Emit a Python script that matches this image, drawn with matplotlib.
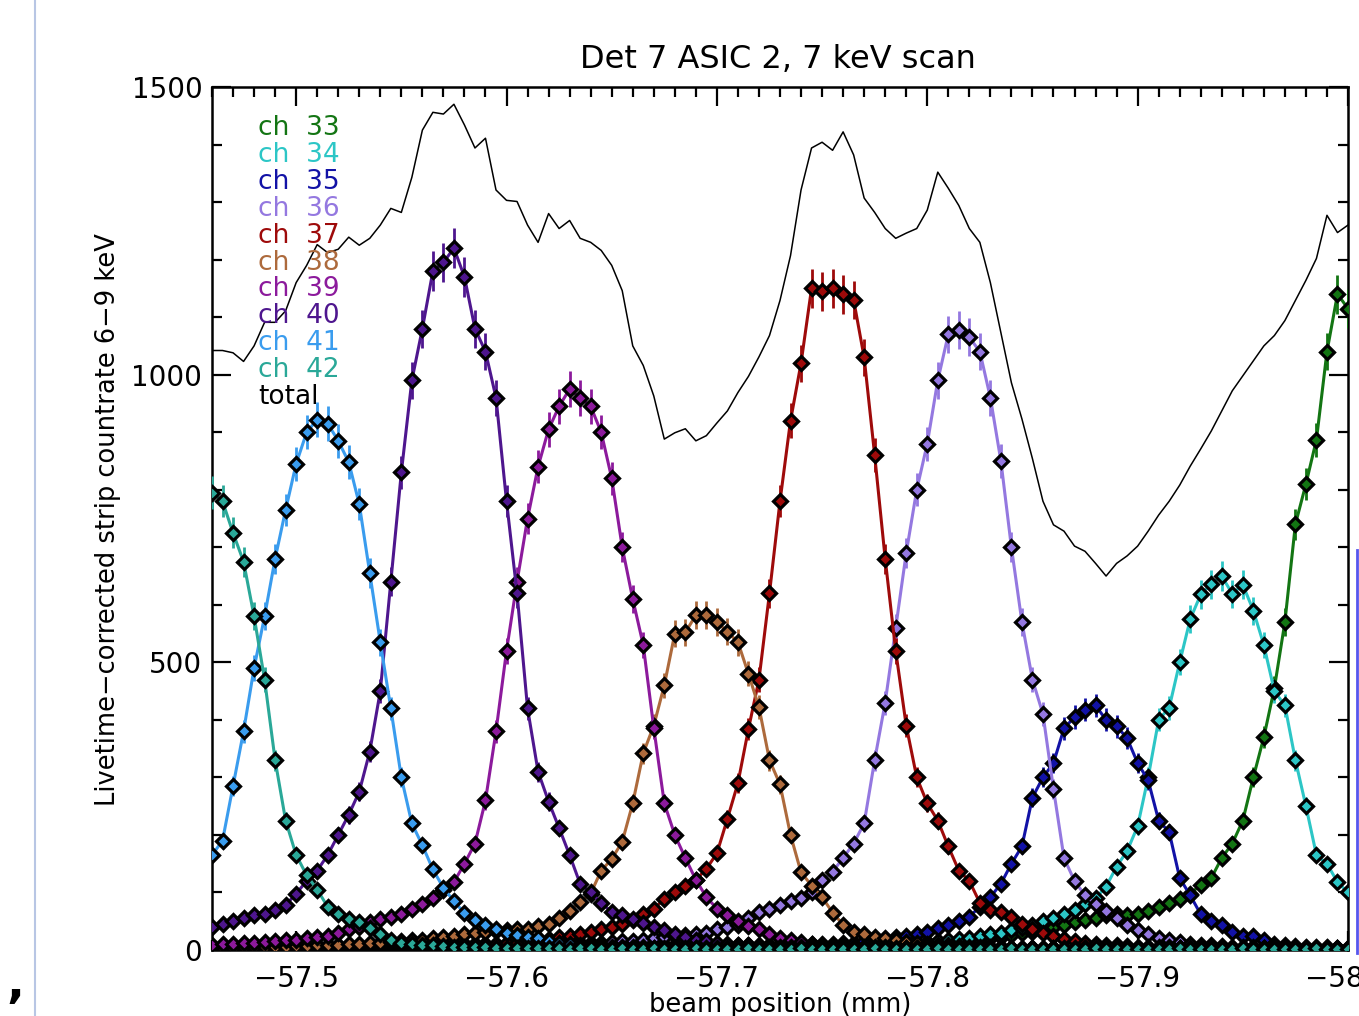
import numpy as np
import matplotlib
matplotlib.use('Agg')
import matplotlib.pyplot as plt
from matplotlib.lines import Line2D
from matplotlib.ticker import MultipleLocator

plt.rcParams['font.family'] = ['DejaVu Sans']

# beam positions (mm), scan from -57.46 to -58.00 in 0.005 mm steps
beam_pos = np.round(np.linspace(-57.46, -58.0, 109), 3)

ch42 = [795, 780, 725, 675, 580, 470, 330, 225, 165, 130,
        105, 75, 63, 54, 48, 38, 28, 18, 13, 11,
        9, 8, 7, 6, 6, 5, 5, 4, 4, 4,
        3, 4, 3, 3, 2, 3, 3, 2, 2, 3,
        2, 2, 3, 2, 2, 2, 3, 2, 2, 2,
        2, 3, 2, 2, 2, 2, 3, 2, 2, 2,
        2, 2, 2, 3, 2, 2, 2, 2, 2, 3,
        2, 2, 2, 2, 2, 2, 3, 2, 2, 2,
        2, 2, 2, 2, 3, 2, 2, 2, 2, 2,
        2, 2, 3, 2, 2, 2, 2, 2, 3, 2,
        2, 2, 2, 2, 2, 3, 2, 2, 2]
ch41 = [165, 190, 285, 380, 490, 580, 680, 765, 845, 900,
        922, 915, 885, 848, 775, 655, 535, 420, 300, 220,
        182, 140, 108, 85, 64, 52, 43, 36, 30, 26,
        23, 20, 16, 13, 11, 9, 8, 7, 6, 6,
        5, 5, 4, 4, 4, 3, 3, 3, 3, 3,
        2, 3, 3, 2, 3, 2, 2, 3, 2, 2,
        3, 2, 2, 2, 3, 2, 2, 2, 3, 2,
        2, 2, 2, 3, 2, 2, 2, 2, 3, 2,
        2, 2, 3, 2, 2, 2, 2, 2, 2, 3,
        2, 2, 2, 2, 3, 2, 2, 2, 2, 2,
        3, 2, 2, 2, 2, 2, 3, 2, 2]
ch40 = [40, 45, 50, 56, 60, 63, 70, 78, 98, 120,
        138, 165, 200, 235, 275, 345, 450, 640, 830, 990,
        1080, 1180, 1195, 1220, 1170, 1080, 1040, 960, 780, 620,
        420, 310, 258, 212, 165, 115, 100, 82, 66, 60,
        54, 47, 40, 34, 27, 22, 18, 15, 12, 10,
        9, 8, 7, 6, 6, 5, 5, 4, 4, 4,
        3, 4, 3, 3, 3, 2, 3, 3, 2, 3,
        2, 3, 2, 2, 3, 2, 2, 2, 3, 2,
        2, 2, 2, 3, 2, 2, 2, 2, 3, 2,
        2, 2, 2, 2, 2, 3, 2, 2, 2, 2,
        2, 3, 2, 2, 2, 2, 2, 3, 2]
ch39 = [9, 10, 11, 12, 13, 14, 15, 17, 18, 20,
        22, 25, 30, 36, 40, 48, 54, 57, 62, 72,
        80, 90, 104, 118, 150, 185, 260, 380, 520, 640,
        750, 840, 905, 945, 975, 960, 945, 900, 820, 700,
        610, 530, 386, 255, 200, 160, 122, 92, 72, 60,
        50, 42, 36, 27, 21, 17, 14, 11, 9, 8,
        7, 6, 6, 5, 5, 4, 4, 4, 3, 3,
        3, 3, 2, 3, 2, 2, 3, 2, 2, 2,
        3, 2, 2, 2, 2, 3, 2, 2, 2, 2,
        2, 3, 2, 2, 2, 2, 2, 2, 3, 2,
        2, 2, 2, 2, 3, 2, 2, 2, 2]
ch38 = [4, 4, 4, 5, 5, 5, 6, 6, 7, 7,
        8, 8, 9, 10, 11, 12, 13, 14, 15, 17,
        18, 20, 22, 25, 27, 29, 31, 33, 35, 36,
        37, 41, 45, 55, 68, 84, 98, 138, 158, 188,
        255, 342, 390, 460, 550, 552, 582, 582, 570, 553,
        535, 480, 422, 330, 288, 200, 135, 112, 92, 65,
        44, 32, 27, 23, 20, 17, 14, 12, 10, 9,
        8, 7, 6, 6, 5, 5, 4, 4, 4, 3,
        3, 3, 2, 3, 2, 2, 3, 2, 2, 2,
        2, 2, 3, 2, 2, 2, 2, 3, 2, 2,
        2, 2, 2, 3, 2, 2, 2, 2, 2]
ch37 = [3, 3, 3, 4, 4, 4, 4, 5, 5, 5,
        5, 6, 6, 6, 7, 7, 7, 8, 8, 8,
        9, 9, 10, 10, 10, 11, 11, 11, 12, 13,
        15, 17, 19, 22, 25, 28, 32, 36, 40, 45,
        52, 62, 72, 88, 100, 112, 122, 141, 168, 228,
        290, 384, 470, 620, 780, 920, 1020, 1150, 1145, 1150,
        1140, 1130, 1030, 860, 680, 520, 390, 300, 255, 225,
        180, 138, 120, 82, 70, 66, 57, 46, 37, 30,
        24, 19, 15, 12, 10, 9, 8, 7, 6, 6,
        5, 5, 4, 4, 4, 3, 3, 3, 3, 2,
        3, 2, 2, 2, 3, 2, 2, 2, 2]
ch36 = [2, 2, 2, 3, 2, 3, 3, 3, 3, 4,
        4, 4, 4, 5, 5, 5, 5, 6, 6, 6,
        6, 7, 7, 7, 8, 8, 8, 9, 9, 9,
        10, 10, 10, 11, 11, 12, 12, 13, 14, 15,
        16, 18, 20, 22, 24, 26, 28, 30, 36, 40,
        44, 55, 66, 72, 78, 85, 91, 100, 121, 136,
        160, 185, 220, 330, 430, 560, 690, 800, 880, 990,
        1070, 1078, 1065, 1040, 960, 850, 700, 570, 470, 410,
        280, 160, 120, 95, 80, 68, 55, 44, 34, 27,
        21, 17, 14, 11, 9, 8, 7, 6, 5, 5,
        4, 4, 4, 3, 3, 3, 3, 3, 3]
ch35 = [2, 2, 2, 2, 2, 2, 3, 2, 2, 3,
        2, 2, 3, 3, 3, 3, 3, 3, 3, 4,
        4, 4, 4, 4, 4, 4, 5, 5, 5, 5,
        5, 5, 6, 6, 6, 6, 6, 6, 7, 7,
        7, 7, 7, 8, 8, 8, 8, 8, 8, 9,
        9, 9, 9, 9, 9, 9, 10, 10, 10, 11,
        12, 13, 15, 17, 19, 22, 25, 28, 32, 38,
        44, 50, 58, 75, 92, 115, 150, 180, 265, 300,
        325, 385, 405, 418, 425, 400, 389, 368, 325, 295,
        225, 205, 125, 95, 62, 50, 44, 31, 24, 24,
        17, 10, 8, 7, 6, 5, 5, 4, 4]
ch34 = [2, 2, 2, 2, 3, 2, 2, 2, 2, 2,
        2, 3, 2, 2, 2, 2, 2, 3, 2, 2,
        2, 2, 2, 2, 3, 2, 2, 2, 2, 3,
        2, 2, 2, 2, 2, 3, 2, 2, 3, 2,
        3, 3, 3, 4, 4, 4, 4, 5, 5, 5,
        5, 6, 6, 6, 7, 7, 7, 8, 8, 9,
        9, 10, 10, 11, 11, 12, 12, 13, 14, 15,
        17, 19, 21, 24, 27, 30, 34, 38, 44, 50,
        56, 62, 70, 80, 90, 110, 145, 172, 215, 300,
        400, 421, 500, 575, 618, 636, 650, 619, 635, 590,
        530, 450, 425, 330, 250, 165, 150, 118, 100]
ch33 = [2, 2, 2, 2, 2, 3, 2, 2, 2, 2,
        3, 2, 2, 2, 2, 2, 3, 2, 2, 2,
        2, 3, 2, 2, 2, 2, 2, 2, 3, 2,
        2, 2, 2, 3, 2, 2, 2, 2, 2, 3,
        2, 3, 3, 3, 3, 4, 4, 4, 4, 5,
        5, 5, 5, 6, 6, 6, 6, 7, 7, 7,
        8, 8, 8, 9, 9, 9, 10, 10, 10, 11,
        12, 14, 16, 18, 20, 23, 26, 29, 32, 36,
        40, 44, 48, 52, 56, 60, 62, 60, 63, 68,
        74, 82, 89, 98, 113, 125, 160, 185, 225, 300,
        370, 455, 570, 740, 810, 887, 1040, 1140, 1115]
total = [1042, 1042, 1038, 1023, 1050, 1091, 1091, 1111, 1160, 1190,
         1226, 1212, 1218, 1239, 1225, 1237, 1260, 1289, 1282, 1343,
         1425, 1456, 1453, 1470, 1434, 1394, 1411, 1321, 1303, 1301,
         1260, 1230, 1280, 1254, 1268, 1237, 1230, 1216, 1190, 1146,
         1050, 1016, 963, 888, 899, 906, 885, 894, 916, 937,
         969, 997, 1031, 1068, 1129, 1207, 1321, 1394, 1404, 1390,
         1422, 1382, 1307, 1282, 1254, 1237, 1246, 1254, 1286, 1352,
         1324, 1294, 1254, 1230, 1160, 1073, 986, 923, 854, 780,
         739, 728, 702, 693, 672, 650, 672, 685, 702, 728,
         756, 780, 808, 841, 871, 902, 937, 972, 998, 1024,
         1050, 1068, 1094, 1129, 1164, 1202, 1277, 1247, 1260]

channels = ['33', '34', '35', '36', '37', '38', '39', '40', '41', '42']
series = [ch33, ch34, ch35, ch36, ch37, ch38, ch39, ch40, ch41, ch42]
colors = ['#137513', '#2cc6c6', '#1212a6', '#9478e0', '#9e0a0a',
          '#ad6a3c', '#8c1a9c', '#4e168e', '#3a9cee', '#2aa898']

W, H = 1359, 1016
fig = plt.figure(figsize=(W / 100, H / 100), dpi=100)
ax = fig.add_axes([212 / W, 1 - 950 / H, (1348 - 212) / W, (950 - 87) / H])

for name, vals, col in zip(channels, series, colors):
    v = np.array(vals, dtype=float)
    ax.errorbar(beam_pos, v, yerr=np.sqrt(v), color=col, lw=2.2,
                elinewidth=2, capsize=0, marker='D', ms=7, mfc=col,
                mec='black', mew=2.3, zorder=3)

ax.plot(beam_pos, total, color='black', lw=1.1, zorder=4)

ax.set_xlim(-57.46, -58.0)
ax.set_ylim(0, 1500)
ax.xaxis.set_major_locator(MultipleLocator(0.1))
ax.xaxis.set_minor_locator(MultipleLocator(0.01))
ax.yaxis.set_major_locator(MultipleLocator(500))
ax.yaxis.set_minor_locator(MultipleLocator(100))
ax.xaxis.set_major_formatter(plt.FuncFormatter(lambda v, p: f'{v:.1f}'.replace('-', '\u2212')))
ax.tick_params(which='both', direction='in', top=True, right=True,
               labelsize=20, width=1.6)
ax.tick_params(which='major', length=14)
ax.tick_params(which='minor', length=7)
ax.tick_params(axis='x', pad=11)
ax.tick_params(axis='y', pad=7)
for sp in ax.spines.values():
    sp.set_linewidth(1.8)

# title and axis labels
fig.text(778 / W, 1 - 60 / H, 'Det 7 ASIC 2, 7 keV scan', ha='center',
         va='center', fontsize=23)
fig.text(108 / W, 1 - 520 / H, 'Livetime\u2212corrected strip countrate 6\u22129 keV',
         rotation=90, ha='center', va='center', fontsize=18.5)
fig.text(780 / W, 1 - 1005 / H, 'beam position (mm)', ha='center',
         va='center', fontsize=18.5)

# legend in IDL style
for k, (name, col) in enumerate(zip(channels, colors)):
    fig.text(258 / W, 1 - (128 + 26.9 * k) / H, f'ch  {name}', color=col,
             ha='left', va='center', fontsize=19)
fig.text(258 / W, 1 - (128 + 26.9 * 10) / H, 'total', color='black',
         ha='left', va='center', fontsize=19)

# page decorations around the plot
fig.add_artist(Line2D([35 / W, 35 / W], [0, 1], color='#b8c6e4', lw=1.5,
                      transform=fig.transFigure))
fig.add_artist(Line2D([1357 / W, 1357 / W], [1 - 953 / H, 1 - 550 / H],
                      color='#5656ee', lw=2, transform=fig.transFigure))
fig.text(15 / W, 1 - 985 / H, ',', fontsize=34, fontweight='bold',
         ha='center', va='center')

fig.savefig('out.png', dpi=100)
